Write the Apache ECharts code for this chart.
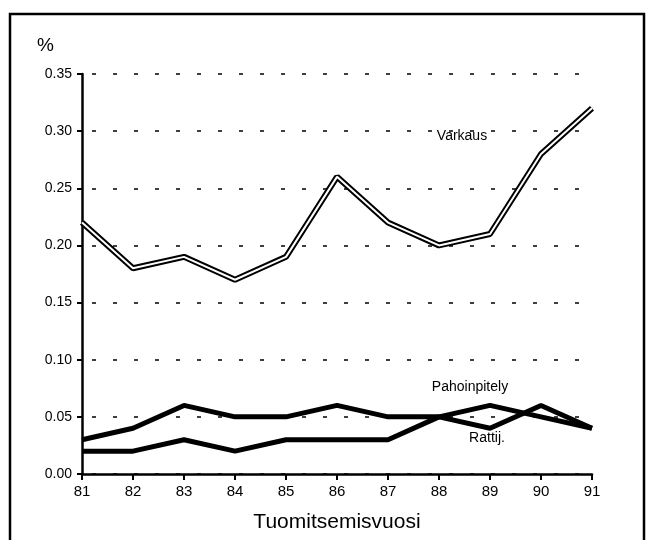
<!DOCTYPE html>
<html><head><meta charset="utf-8">
<script src="https://cdn.jsdelivr.net/npm/echarts@6/dist/echarts.min.js"></script>
<style>html,body{margin:0;padding:0;background:#fff}#c{width:646px;height:540px}</style>
</head><body><div id="c"></div>
<script>
const years = ['81','82','83','84','85','86','87','88','89','90','91'];
const varkaus = [0.22,0.18,0.19,0.17,0.19,0.26,0.22,0.20,0.21,0.28,0.32];
const pahoinpitely = [0.02,0.02,0.03,0.02,0.03,0.03,0.03,0.05,0.06,0.05,0.04];
const rattij = [0.03,0.04,0.06,0.05,0.05,0.06,0.05,0.05,0.04,0.06,0.04];
const yTicks = ['0.00','0.05','0.10','0.15','0.20','0.25','0.30','0.35'];
const xName = 'Tuomitsemisvuosi';
const yName = '%';
const labels = ['Varkaus','Pahoinpitely','Rattij.'];

const font = 'Liberation Sans';
const chart = echarts.init(document.getElementById('c'));
chart.setOption({
  animation:false,
  backgroundColor:'#fff',
  grid:{left:82,right:54,top:74,bottom:66},
  xAxis:{type:'category',data:years,boundaryGap:false,
    name:xName,nameLocation:'middle',nameGap:38,
    nameTextStyle:{fontFamily:font,fontSize:21,color:'#000'},
    axisLine:{lineStyle:{color:'#000',width:2.5}},
    axisTick:{length:6,lineStyle:{color:'#000',width:2}},
    axisLabel:{fontFamily:font,fontSize:15,color:'#000',margin:10},
    splitLine:{show:false}},
  yAxis:{type:'value',min:0,max:0.35,interval:0.05,
    axisLine:{show:true,lineStyle:{color:'#000',width:2.5}},
    axisTick:{show:true,length:5,lineStyle:{color:'#000',width:2}},
    axisLabel:{fontFamily:font,fontSize:14,color:'#000',margin:10,
      formatter:(v)=>yTicks[Math.round(v/0.05)]},
    splitLine:{show:true,lineStyle:{color:'#000',width:1.5,type:[4,17],dashOffset:-10}}},
  series:[
    {type:'line',data:rattij,symbol:'none',lineStyle:{color:'#000',width:5},z:3},
    {type:'line',data:pahoinpitely,symbol:'none',lineStyle:{color:'#000',width:5},z:3},
    {type:'line',data:varkaus,symbol:'none',lineStyle:{color:'#000',width:6},z:3},
    {type:'line',data:varkaus,symbol:'none',lineStyle:{color:'#fff',width:2},z:4}
  ],
  graphic:[
    {type:'rect',shape:{x:10,y:14,width:634,height:540},style:{fill:'none',stroke:'#000',lineWidth:2.5},silent:true},
    {type:'text',x:37,y:36,style:{text:yName,fontFamily:font,fontSize:19,fill:'#000'}},
    {type:'text',x:462,y:136,style:{text:labels[0],fontFamily:font,fontSize:14,fill:'#000',align:'center',verticalAlign:'middle'}},
    {type:'text',x:470,y:387,style:{text:labels[1],fontFamily:font,fontSize:14,fill:'#000',align:'center',verticalAlign:'middle'}},
    {type:'text',x:487,y:438,style:{text:labels[2],fontFamily:font,fontSize:14,fill:'#000',align:'center',verticalAlign:'middle'}}
  ]
});
</script></body></html>
